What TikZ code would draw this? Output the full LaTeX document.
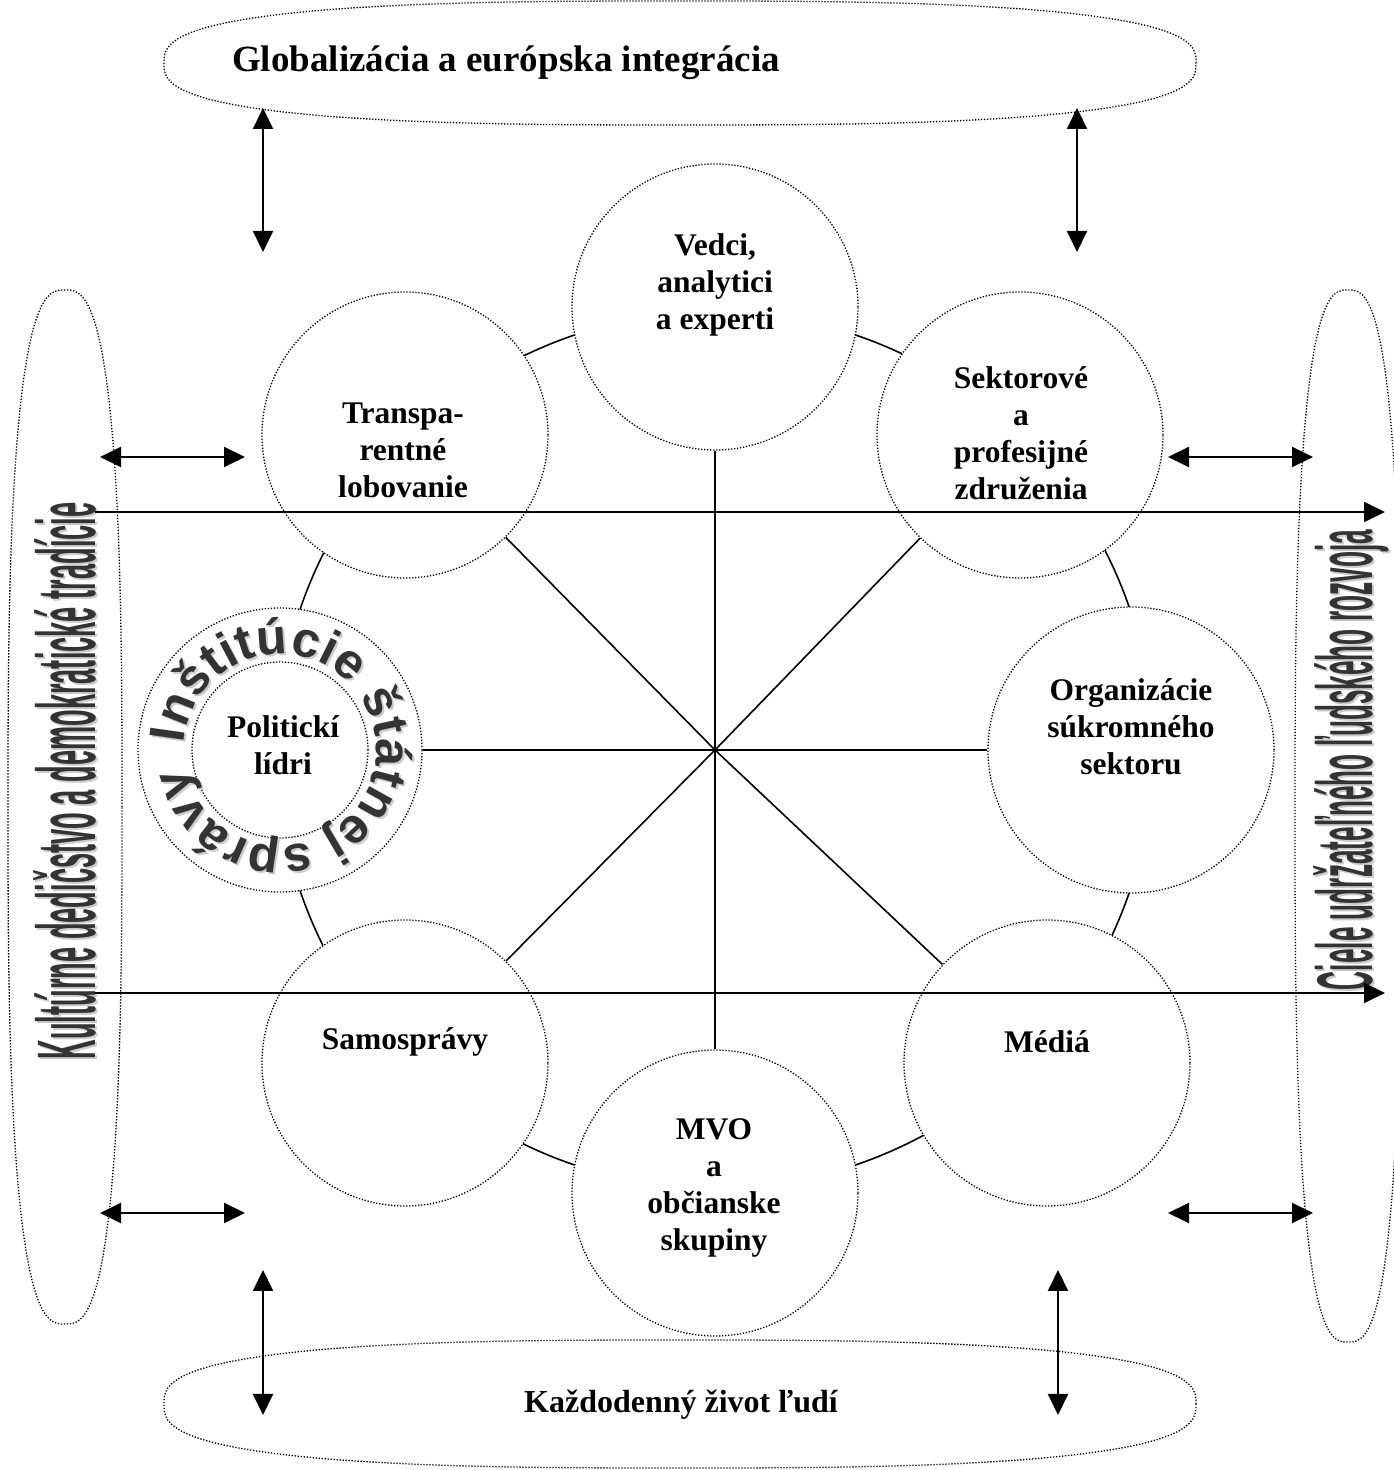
\documentclass[tikz,border=0pt]{standalone}
\usepackage{fontspec}
\setmainfont{Liberation Serif}
\setsansfont{Liberation Sans}
\usepackage{graphicx}
\usetikzlibrary{arrows.meta,decorations.text,backgrounds}
\definecolor{wordart}{rgb}{0.2,0.2,0.2}
\definecolor{halo}{rgb}{0.8,0.8,0.8}
\newcommand{\ringfont}{\sffamily\bfseries\fontsize{50}{50}\selectfont}
% bodkovany ovál (superelipsa)
\newcommand{\dotoval}[4]{%
  \draw[dotline] plot[domain=0:360, samples=240, smooth, variable=\t]
    ({#1+#3*sign(cos(\t))*pow(abs(cos(\t)),0.72)}, {#2+#4*sign(sin(\t))*pow(abs(sin(\t)),0.72)}) -- cycle;}

\begin{document}
\begin{tikzpicture}[x=1pt, y=1pt, >={Triangle[length=21pt,width=20pt]},
  dotline/.style={line width=1.3pt, dash pattern=on 1.3pt off 1.7pt},
  actor/.style={circle, draw, dotline, fill=white, minimum size=286pt, inner sep=0pt},
  lbl/.style={font=\bfseries\fontsize{31.5}{37}\selectfont, align=center},
  link/.style={line width=1.6pt},
  dbl/.style={<->, line width=2pt},
  flow/.style={->, line width=1.8pt}]
\useasboundingbox (0,0) rectangle (1394,1470);
\coordinate (hub) at (715,720);
% aktéri
\node[actor] (vedci)   at (715,1163) {};
\node[actor] (transp)  at (405,1035) {};
\node[actor] (sektor)  at (1020,1035) {};
\node[actor] (organiz) at (1131,720) {};
\node[actor] (media)   at (1047,407) {};
\node[actor] (mvo)     at (715,277) {};
\node[actor] (samospr) at (405,407) {};
\node[actor, minimum size=284pt] (politicki) at (280,720) {};
\node[circle, draw, dotline, minimum size=176pt] (politicki-in) at (280,720) {};
% prstenec a spojnice
\begin{scope}[on background layer]
  \draw[link] (hub) circle[radius=438];
\end{scope}
\foreach \a in {vedci,transp,sektor,organiz,media,mvo,samospr,politicki}
  \draw[link] (hub) -- (\a);
% texty v kruhoch
\node[lbl] (vedci-t)   at (715,1185) {Vedci,\\analytici\\a experti};
\node[lbl] (transp-t)  at (403,1020) {Transpa-\\rentné\\lobovanie};
\node[lbl] (sektor-t)  at (1021,1037) {Sektorové\\a\\profesijné\\združenia};
\node[lbl] (organiz-t) at (1131,743) {Organizácie\\súkromného\\sektoru};
\node[lbl] (media-t)   at (1047,428) {Médiá};
\node[lbl] (mvo-t)     at (714,282) {MVO\\a\\občianske\\skupiny};
\node[lbl] (samospr-t) at (405,428) {Samosprávy};
\node[lbl] (politicki-t) at (283,725) {Politickí\\lídri};
% text po kruhu
\foreach \dx/\dy/\c in {2/-2/halo,0/0/wordart}
  \path[decorate, decoration={text along path, text={|\ringfont|Inštitúcie štátnej správy},
      text align=fit to path, text color=\c}]
    ([shift={(\dx,\dy)}]politicki.center) ++(176:96) arc[start angle=176, end angle=-170, radius=96];
% ovály
\dotoval{680}{1407}{516}{62}
\dotoval{680}{66}{516}{64}
\dotoval{65}{663}{57}{517}
\dotoval{1348}{654}{53}{526}
\node[font=\bfseries\fontsize{37}{44}\selectfont, anchor=west, inner sep=0pt] (global) at (232,1407)
  {Globalizácia a európska integrácia};
\node[font=\bfseries\fontsize{32}{38}\selectfont, inner sep=0pt] (zivot) at (681,65)
  {Každodenný život ľudí};
% bočné nápisy
\node[rotate=90, anchor=base, inner sep=0pt, text=halo] at (97,687)
  {\resizebox{557pt}{62pt}{\sffamily\bfseries Kultúrne dedičstvo a demokratické tradície}};
\node[rotate=90, anchor=base, inner sep=0pt, text=wordart] (kultura) at (95,689)
  {\resizebox{557pt}{62pt}{\sffamily\bfseries Kultúrne dedičstvo a demokratické tradície}};
\node[rotate=90, anchor=base, inner sep=0pt, text=halo] at (1374,708)
  {\resizebox{460pt}{59pt}{\sffamily\bfseries Ciele udržateľného ľudského rozvoja}};
\node[rotate=90, anchor=base, inner sep=0pt, text=wordart] (ciele) at (1372,710)
  {\resizebox{460pt}{59pt}{\sffamily\bfseries Ciele udržateľného ľudského rozvoja}};
% šípky
\coordinate (h1a) at (95,958);  \coordinate (h1b) at (1385,958);
\coordinate (h2a) at (95,477);  \coordinate (h2b) at (1385,477);
\draw[flow] (h1a) -- (h1b);
\draw[flow] (h2a) -- (h2b);
\foreach \y in {1013,257} {
  \draw[dbl] (100,\y) -- (245,\y);
  \draw[dbl] (1168,\y) -- (1313,\y);
}
\draw[dbl] (263,1362) -- (263,1218);
\draw[dbl] (1077,1362) -- (1077,1218);
\draw[dbl] (263,200) -- (263,55);
\draw[dbl] (1058,200) -- (1058,55);
\end{tikzpicture}
\end{document}
